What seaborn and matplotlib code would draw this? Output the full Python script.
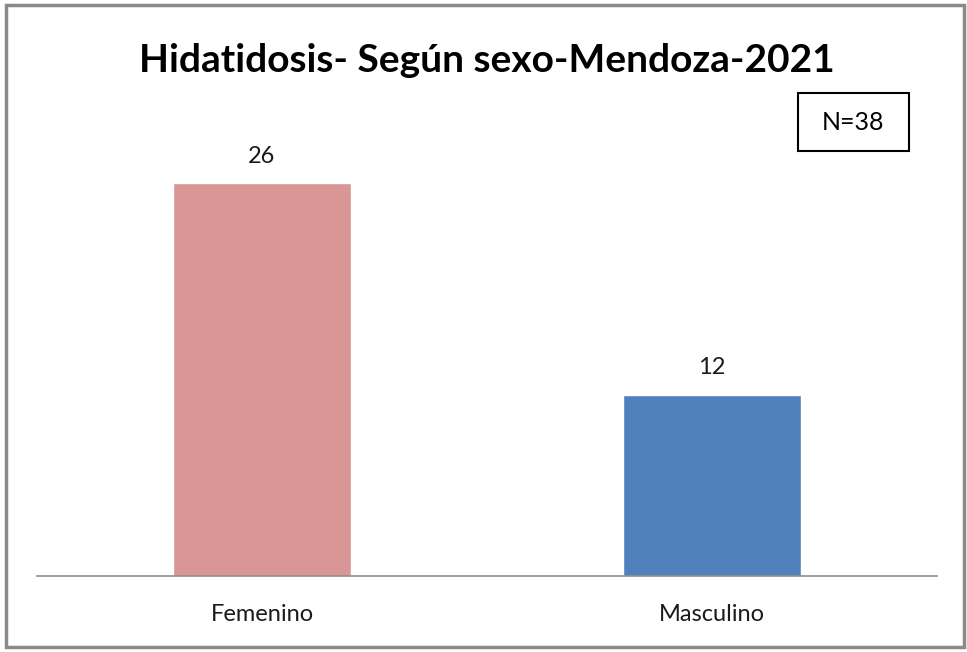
import matplotlib
matplotlib.use("Agg")
import matplotlib.pyplot as plt
from matplotlib.patches import Rectangle
import seaborn as sns
import pandas as pd

sexo = ["Femenino", "Masculino"]
casos = [26, 12]
colores = ["#D99694", "#4F81BD"]
titulo = "Hidatidosis- Según sexo-Mendoza-2021"
total_txt = "N=38"

sns.set_style("white")
plt.rcParams["font.family"] = ["Lato", "DejaVu Sans"]

W, H = 967, 652
fig = plt.figure(figsize=(W / 100, H / 100), dpi=100)

# axes placed in pixel terms
ax_top = 120
base = 576
ax = fig.add_axes([37 / W, (H - base) / H, 900 / W, (base - ax_top) / H])

df = pd.DataFrame({"sexo": sexo, "casos": casos})
sns.barplot(data=df, x="sexo", y="casos", hue="sexo", palette=colores,
            legend=False, width=0.396, saturation=1, ax=ax)

ax.set_ylim(0, (base - ax_top) / 15.1)
ax.set_xlim(-0.5, 1.5)
ax.set_xlabel("")
ax.set_ylabel("")
ax.set_yticks([])
for s in ["top", "right", "left"]:
    ax.spines[s].set_visible(False)
ax.spines["bottom"].set_color("#8c8c8c")
ax.spines["bottom"].set_linewidth(1.2)
ax.tick_params(axis="x", length=0, pad=20, labelsize=17, colors="#1a1a1a")

for c in ax.containers:
    ax.bar_label(c, padding=12, fontsize=17, color="#1a1a1a")

fig.text(487 / W, 1 - 60 / H, titulo, ha="center", va="center",
         fontsize=28, fontweight="bold", color="black")

# N box
fig.patches.append(Rectangle((798 / W, 1 - 151 / H), 111 / W, 58 / H,
                             transform=fig.transFigure, fill=False,
                             edgecolor="black", linewidth=1.5))
fig.text(853 / W, 1 - 122 / H, total_txt, ha="center", va="center",
         fontsize=18, color="black")

# outer frame
fig.patches.append(Rectangle((6 / W, 5 / H), 958 / W, 642 / H,
                             transform=fig.transFigure, fill=False,
                             edgecolor="#8a8a8a", linewidth=2.5))

fig.savefig("out.png", dpi=100)
